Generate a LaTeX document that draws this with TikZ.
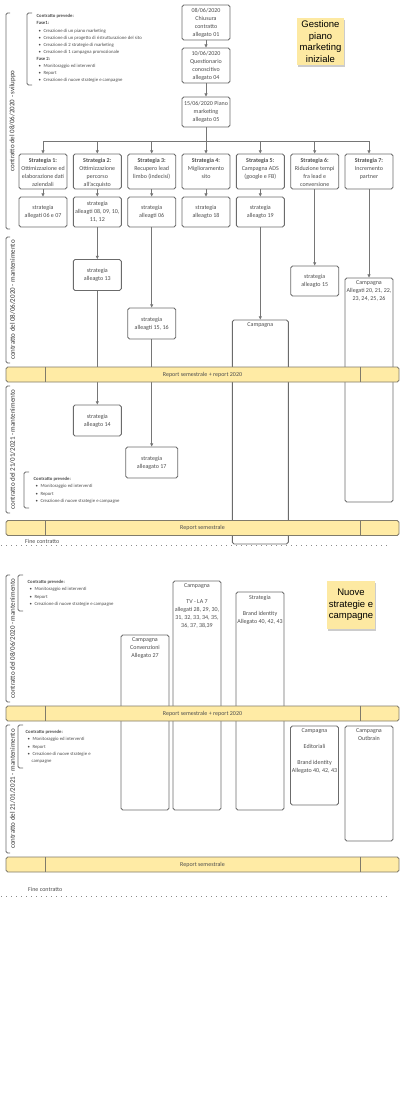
\documentclass[tikz,border=0pt]{standalone}
\usepackage{fontspec}
\setmainfont{Carlito}
\newfontfamily\stickyfont{Liberation Sans}
\usetikzlibrary{arrows.meta,shadows}
\definecolor{boxline}{HTML}{6B6B6B}
\definecolor{txt}{HTML}{4D4D4D}
\definecolor{dark}{HTML}{333333}
\definecolor{stickyc}{HTML}{FDE9A2}
\definecolor{barfill}{HTML}{FFEBA5}
\definecolor{barline}{HTML}{807B6A}
\definecolor{linkc}{HTML}{767676}
\definecolor{dotc}{HTML}{8C8C8C}
\newcommand{\cbul}{\hspace*{2pt}\textbullet\hspace{2.5pt}}
\tikzset{
  box/.style={draw=boxline, line width=0.9pt, rounded corners=1.8pt, fill=white, align=center, text=txt, font=\fontsize{6}{8}\selectfont, inner sep=0pt, minimum width=48pt},
  tl/.style={anchor=north, align=center, text=txt, font=\fontsize{6}{8}\selectfont, inner sep=0pt, yshift=-3.2pt},
  stl/.style={tl, yshift=-1.8pt},
  link/.style={draw=linkc, line width=0.7pt},
  arr/.style={link, -{Triangle[length=3.2pt,width=3pt]}},
  bar/.style={draw=barline, line width=0.8pt, fill=barfill, rounded corners=1.8pt, minimum width=393pt, minimum height=15pt, inner sep=0pt, text=txt, font=\fontsize{6}{7}\selectfont},
  bardiv/.style={draw=barline, line width=0.8pt},
  sticky/.style={fill=stickyc, minimum width=47pt, minimum height=47pt, align=center, inner sep=0pt, font=\stickyfont\fontsize{9.5}{11.4}\selectfont, text=black, drop shadow={shadow xshift=1pt, shadow yshift=-2pt, opacity=0.2, fill=black}},
  brack/.style={draw=boxline, line width=0.8pt, rounded corners=1.5pt},
  vlabel/.style={rotate=90, text=dark, font=\fontsize{7}{8}\selectfont, inner sep=0pt},
  contract/.style={anchor=north west, align=left, text=txt, font=\fontsize{4.75}{7.1}\selectfont, inner sep=0pt},
  dotline/.style={draw=dotc, line width=1pt, dash pattern=on 0.9pt off 4.1pt},
  fine/.style={text=txt, font=\fontsize{6}{7}\selectfont, inner sep=0pt, anchor=west},
}
\begin{document}
\begin{tikzpicture}[x=1pt,y=-1pt]
\useasboundingbox (0,0) rectangle (400,1112);

% ---------- Section 1 ----------
\draw[brack] (10,13) -- (6,13) -- (6,229) -- (10,229);
\node[vlabel] (lb1) at (12.5,121) {contratto del 08/06/2020 - sviluppo};
\draw[brack] (10,237) -- (6,237) -- (6,363) -- (10,363);
\node[vlabel] (lb2) at (12.5,300) {contratto del 08/06/2020 - mantenimento};
\draw[brack] (10,386) -- (6,386) -- (6,513) -- (10,513);
\node[vlabel] (lb3) at (12.5,449.5) {contratto del 21/01/2021 - mantenimento};

\draw[brack] (32,13) -- (27,13) -- (27,85) -- (32,85);
\node[contract] (cp1) at (36.5,14.3) {\textbf{Contratto prevede:}\\
\textbf{Fase1:}\\
\cbul Creazione di un piano marketing\\
\cbul Creazione di un progetto di ristrutturazione del sito\\
\cbul Creazione di 2 strategie di marketing\\
\cbul Creazione di 1 campagna promozionale\\
\textbf{Fase 2:}\\
\cbul Monitoraggio ed interventi\\
\cbul Report\\
\cbul Creazione di nuove strategie e campagne};

\draw[brack] (29,472) -- (24,472) -- (24,508) -- (29,508);
\node[contract] (cp2) at (33.5,477.3) {\textbf{Contratto prevede:}\\
\cbul Monitoraggio ed interventi\\
\cbul Report\\
\cbul Creazione di nuove strategie e campagne};

\node[sticky] (st1) at (320.5,41.5) {Gestione\\piano\\marketing\\iniziale};

\node[box, minimum height=35pt] (t1) at (206,22.5) {08/06/2020\\Chiusura\\contratto\\allegato 01};
\node[box, minimum height=35pt] (t2) at (206,65.5) {10/06/2020\\Questionario\\conoscitivo\\allegato 04};
\node[box, minimum height=30pt] (t3) at (206,112) {15/06/2020 Piano\\marketing\\allegato 05};

\node[box, minimum height=35pt, label={[stl]north:{\textbf{Strategia 1:}\\Ottimizzazione ed\\elaborazione dati\\aziendali}}] (s1) at (43,171.5) {};
\node[box, minimum height=35pt, label={[stl]north:{\textbf{Strategia 2:}\\Ottimizzazione\\percorso\\all'acquisto}}] (s2) at (97.3,171.5) {};
\node[box, minimum height=35pt, label={[stl]north:{\textbf{Strategia 3:}\\Recupero lead\\limbo (indecisi)}}] (s3) at (151.7,171.5) {};
\node[box, minimum height=35pt, label={[stl]north:{\textbf{Strategia 4:}\\Miglioramento\\sito}}] (s4) at (206,171.5) {};
\node[box, minimum height=35pt, label={[stl]north:{\textbf{Strategia 5:}\\Campagna ADS\\(google e FB)}}] (s5) at (260.3,171.5) {};
\node[box, minimum height=35pt, label={[stl]north:{\textbf{Strategia 6:}\\Riduzione tempi\\fra lead e\\conversione}}] (s6) at (314.7,171.5) {};
\node[box, minimum height=35pt, label={[stl]north:{\textbf{Strategia 7:}\\Incremento\\partner}}] (s7) at (369,171.5) {};

\node[box, minimum height=30pt] (r1) at (43,212) {strategia\\allegati 06 e 07};
\node[box, minimum height=30pt] (r2) at (97.3,212) {strategia\\alleagti 08, 09, 10,\\11, 12};
\node[box, minimum height=30pt] (r3) at (151.7,212) {strategia\\alleagti 06};
\node[box, minimum height=30pt] (r4) at (206,212) {strategia\\alleagto 18};
\node[box, minimum height=30pt] (r5) at (260.3,212) {strategia\\alleagto 19};

\node[box, minimum height=31pt] (b13) at (97.3,275) {strategia\\alleagto 13};
\node[box, minimum height=31pt] (b1516) at (151.7,323.5) {strategia\\alleagti 15, 16};
\node[box, minimum height=30pt] (b15) at (314.7,281) {strategia\\alleagto 15};
\node[box, minimum height=31pt] (b14) at (97.3,420.5) {strategia\\alleagto 14};
\node[box, minimum height=31pt, minimum width=52pt] (b17) at (151.7,462.5) {strategia\\alleagato 17};
\node[box, minimum height=224pt, label={[tl]north:{Campagna\\Allegati 20, 21, 22,\\23, 24, 25, 26}}] (c7) at (369,390) {};
\node[box, minimum height=224pt, minimum width=56pt, label={[tl]north:{Campagna}}] (c5) at (260.3,432) {};

\draw[arr] (t1) -- (t2);
\draw[arr] (t2) -- (t3);
\coordinate (hub) at (206,141);
\draw[link] (t3.south) -- (hub);
\draw[link] (s1.north |- hub) -- (s7.north |- hub);
\foreach \s in {s1,s2,s3,s4,s5,s6,s7} {\draw[arr] (\s.north |- hub) -- (\s.north);}
\draw[arr] (s1) -- (r1);
\draw[arr] (s2) -- (r2);
\draw[arr] (s3) -- (r3);
\draw[arr] (s4) -- (r4);
\draw[arr] (s5) -- (r5);
\draw[arr] (r2) -- (b13);
\draw[arr] (b13) -- (b14);
\draw[arr] (r3) -- (b1516);
\draw[arr] (b1516) -- (b17);
\draw[arr] (r5) -- (c5);
\draw[arr] (s6) -- (b15);
\draw[arr] (s7) -- (c7);

\node[bar] (bar1) at (202.5,374.5) {Report semestrale + report 2020};
\draw[bardiv] ([xshift=40pt]bar1.north west) -- ([xshift=40pt]bar1.south west);
\draw[bardiv] ([xshift=-39pt]bar1.north east) -- ([xshift=-39pt]bar1.south east);
\node[bar] (bar2) at (202.5,528) {Report semestrale};
\draw[bardiv] ([xshift=40pt]bar2.north west) -- ([xshift=40pt]bar2.south west);
\draw[bardiv] ([xshift=-39pt]bar2.north east) -- ([xshift=-39pt]bar2.south east);

\coordinate (d1a) at (1,545);
\coordinate (d1b) at (390,545);
\draw[dotline] (d1a) -- (d1b);
\node[fine] (fc1) at (25,541.5) {Fine contratto};

% ---------- Section 2 ----------
\draw[brack] (10,575) -- (6,575) -- (6,702) -- (10,702);
\node[vlabel] (lb4) at (12.5,638.5) {contratto del 08/06/2020 - mantenimento};
\draw[brack] (10,725) -- (6,725) -- (6,853) -- (10,853);
\node[vlabel] (lb5) at (12.5,789) {contratto del 21/01/2021 - mantenimento};

\draw[brack] (23,575) -- (18,575) -- (18,611) -- (23,611);
\node[contract] (cp3) at (27.5,580.3) {\textbf{Contratto prevede:}\\
\cbul Monitoraggio ed interventi\\
\cbul Report\\
\cbul Creazione di nuove strategie e campagne};

\draw[brack] (23,725) -- (18,725) -- (18,768) -- (23,768);
\node[contract] (cp4) at (25.5,730.3) {\textbf{Contratto prevede:}\\
\cbul Monitoraggio ed interventi\\
\cbul Report\\
\cbul Creazione di nuove strategie e\\
\hspace*{6pt}campagne};

\node[sticky, minimum width=48pt, minimum height=48pt] (st2) at (351,605) {Nuove\\strategie e\\campagne};

\node[box, minimum height=175pt, label={[tl]north:{Campagna\\Convenzioni\\Allegato 27}}] (cv) at (145,722.5) {};
\node[box, minimum height=229pt, label={[tl]north:{Campagna\\[8pt]TV - LA 7\\allegati 28, 29, 30,\\31, 32, 33, 34, 35,\\36, 37, 38,39}}] (tv) at (197,695.5) {};
\node[box, minimum height=218pt, label={[tl]north:{Strategia\\[8pt]Brand identity\\Allegato 40, 42, 43}}] (bi) at (260,701) {};
\node[box, minimum height=79pt, label={[tl]north:{Campagna\\[8pt]Editoriali\\[8pt]Brand identity\\Allegato 40, 42, 43}}] (ed) at (314.5,765.5) {};
\node[box, minimum height=115pt, label={[tl]north:{Campagna\\Outbrain}}] (ob) at (369,783.5) {};

\node[bar] (bar3) at (202.5,713.5) {Report semestrale + report 2020};
\draw[bardiv] ([xshift=40pt]bar3.north west) -- ([xshift=40pt]bar3.south west);
\draw[bardiv] ([xshift=-39pt]bar3.north east) -- ([xshift=-39pt]bar3.south east);
\node[bar] (bar4) at (202.5,864.5) {Report semestrale};
\draw[bardiv] ([xshift=40pt]bar4.north west) -- ([xshift=40pt]bar4.south west);
\draw[bardiv] ([xshift=-39pt]bar4.north east) -- ([xshift=-39pt]bar4.south east);

\coordinate (d2a) at (1,896);
\coordinate (d2b) at (390,896);
\draw[dotline] (d2a) -- (d2b);
\node[fine] (fc2) at (28,889) {Fine contratto};
\end{tikzpicture}
\end{document}
